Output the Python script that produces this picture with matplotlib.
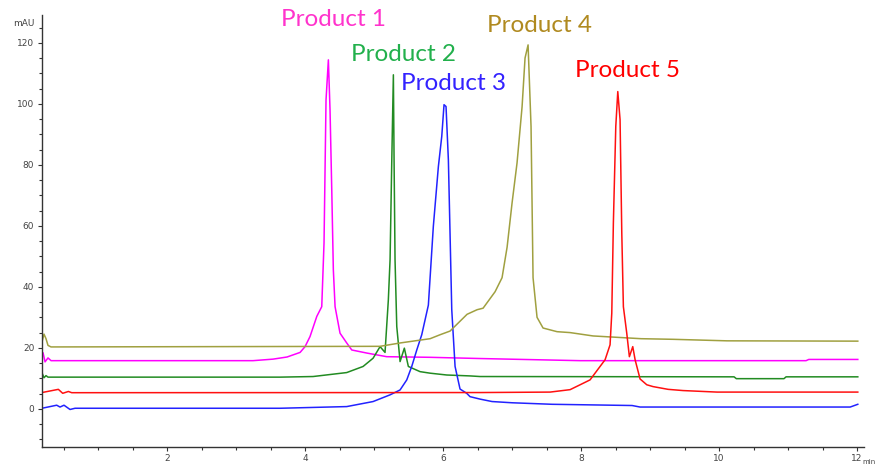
import matplotlib.pyplot as plt
from matplotlib.ticker import MultipleLocator

# retention time (min) / absorbance (mAU)
p1_t = [0.188, 0.203, 0.232, 0.275, 0.319, 3.246, 3.536, 3.739, 3.928, 4.0, 4.072,
        4.17, 4.242, 4.275, 4.304, 4.338, 4.362, 4.387, 4.41, 4.435, 4.507, 4.604,
        4.677, 4.894, 5.184, 5.812, 6.536, 7.986, 11.26, 11.3, 12.01]
p1_v = [17.0, 18.4, 15.4, 16.7, 15.8, 15.8, 16.3, 17.0, 18.5, 20.4, 23.7,
        30.3, 33.5, 54.4, 101.3, 114.4, 98.0, 71.8, 45.6, 33.5, 24.8, 21.6,
        19.3, 18.3, 17.1, 16.9, 16.5, 15.8, 15.8, 16.2, 16.2]

p2_t = [0.188, 0.217, 0.246, 0.275, 0.333, 3.638, 4.116, 4.604, 4.841, 4.986, 5.087,
        5.159, 5.207, 5.232, 5.257, 5.28, 5.29, 5.304, 5.329, 5.377, 5.439, 5.497,
        5.667, 5.812, 6.054, 6.391, 6.536, 10.217, 10.25, 10.94, 10.971, 12.01]
p2_v = [11.8, 10.2, 10.9, 10.4, 10.4, 10.4, 10.6, 11.9, 13.9, 16.6, 20.4,
        18.5, 35.7, 48.9, 81.6, 109.5, 81.6, 48.9, 27.0, 15.5, 19.9, 13.9,
        12.2, 11.7, 11.1, 10.8, 10.6, 10.5, 9.9, 9.9, 10.5, 10.5]

p3_t = [0.188, 0.401, 0.449, 0.507, 0.594, 0.667, 3.638, 4.604, 4.986, 5.232, 5.377,
        5.474, 5.546, 5.619, 5.691, 5.787, 5.859, 5.932, 5.981, 6.014, 6.043, 6.077,
        6.101, 6.126, 6.174, 6.246, 6.343, 6.391, 6.536, 6.71, 7.0, 7.58, 8.739,
        8.855, 11.9, 12.01]
p3_v = [0.2, 1.2, 0.6, 1.2, -0.2, 0.2, 0.2, 0.75, 2.4, 4.6, 6.2,
        9.5, 13.9, 19.3, 24.3, 34.0, 59.8, 79.4, 89.3, 99.7, 99.1, 81.6,
        57.6, 32.5, 13.9, 6.5, 5.1, 4.0, 3.2, 2.4, 2.0, 1.5, 1.1,
        0.6, 0.6, 1.5]

p4_t = [0.188, 0.217, 0.246, 0.275, 0.319, 5.087, 5.377, 5.812, 5.957, 6.101, 6.348,
        6.493, 6.58, 6.754, 6.855, 6.928, 7.0, 7.072, 7.145, 7.188, 7.232, 7.275,
        7.304, 7.362, 7.449, 7.652, 7.841, 8.174, 8.87, 9.333, 10.116, 12.01]
p4_v = [22.0, 24.5, 23.0, 20.8, 20.3, 20.5, 21.6, 23.0, 24.3, 25.5, 31.0,
        32.5, 33.0, 38.4, 43.0, 53.0, 67.5, 80.6, 99.0, 115.0, 119.3, 92.5,
        43.0, 30.0, 26.5, 25.3, 25.0, 23.9, 23.0, 22.8, 22.3, 22.2]

p5_t = [0.188, 0.425, 0.488, 0.57, 0.619, 6.536, 7.551, 7.841, 7.986, 8.13, 8.275,
        8.348, 8.42, 8.445, 8.468, 8.503, 8.532, 8.565, 8.59, 8.613, 8.662, 8.7,
        8.749, 8.783, 8.855, 8.952, 9.043, 9.261, 9.478, 9.971, 12.01]
p5_v = [5.35, 6.4, 5.1, 5.7, 5.3, 5.35, 5.5, 6.3, 7.9, 9.5, 13.9,
        16.1, 21.0, 31.4, 60.9, 92.6, 104.0, 94.8, 57.6, 33.5, 24.8, 17.1,
        20.4, 16.1, 9.8, 7.9, 7.3, 6.4, 6.0, 5.5, 5.5]

names = ['Product 1', 'Product 2', 'Product 3', 'Product 4', 'Product 5']
label_t = [4.406, 5.428, 6.152, 7.391, 8.667]
label_v = [127.5, 116.0, 106.5, 125.8, 111.0]

line_colors = ['#FF00FF', '#228B22', '#2222FF', '#A0A040', '#FF1010']
text_colors = ['#FF33CC', '#22B04C', '#3322FF', '#B08A20', '#FF0000']

fig = plt.figure(figsize=(8.76, 4.68), dpi=100)
ax = fig.add_axes([42 / 876, 1 - 446.7 / 468, (864 - 42) / 876, (446.7 - 15) / 468])

traces = [(p1_t, p1_v), (p2_t, p2_v), (p3_t, p3_v), (p4_t, p4_v), (p5_t, p5_v)]
for (t, v), c in zip(traces, line_colors):
    ax.plot(t, v, color=c, lw=1.1)

for name, x, y, c in zip(names, label_t, label_v, text_colors):
    ax.text(x, y, name, color=c, fontsize=17.5, family='Lato',
            ha='center', va='center', clip_on=False)

ax.set_xlim(0.188, 12.1)
ax.set_ylim(-12.4, 129.1)
ax.xaxis.set_major_locator(MultipleLocator(2))
ax.xaxis.set_minor_locator(MultipleLocator(0.5))
ax.yaxis.set_major_locator(MultipleLocator(20))
ax.yaxis.set_minor_locator(MultipleLocator(5))
ax.tick_params(which='both', direction='out', width=0.8, color='#333333',
               labelsize=6.5, labelcolor='#444444', pad=2.5)
ax.tick_params(which='major', length=3)
ax.tick_params(which='minor', length=2)
for s in ['top', 'right']:
    ax.spines[s].set_visible(False)
for s in ['left', 'bottom']:
    ax.spines[s].set_color('#333333')
    ax.spines[s].set_linewidth(1.0)

fig.text(24 / 876, 1 - 23 / 468, 'mAU', fontsize=6.5, color='#444444',
         ha='center', va='center')
fig.text(875.5 / 876, 1 - 462 / 468, 'min', fontsize=5, color='#444444',
         ha='right', va='center')

fig.savefig('out.png', dpi=100)
